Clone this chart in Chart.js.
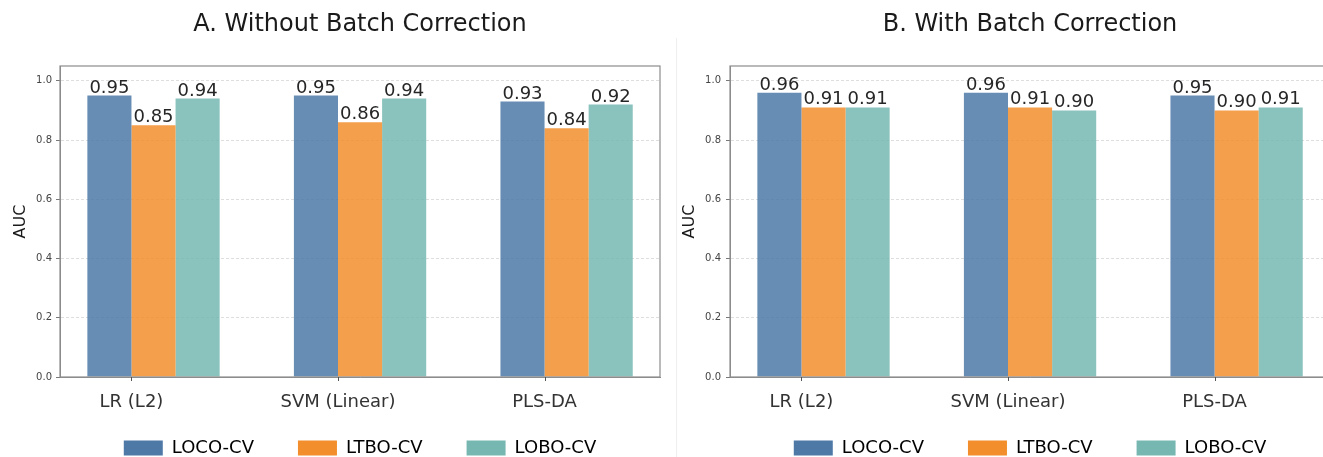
<!DOCTYPE html>
<html><head><meta charset="utf-8">
<script src="https://cdn.jsdelivr.net/npm/chart.js@4.4.1/dist/chart.umd.min.js"></script>
<style>
html,body{margin:0;padding:0;background:#fff;overflow:hidden;width:1323px;height:457px;}
#wrap{position:relative;width:1323px;height:457px;overflow:hidden;background:#fff;}
#boxA{position:absolute;left:0;top:0;width:676px;height:457px;}
#boxB{position:absolute;left:676px;top:0;width:654px;height:457px;}
#sep{position:absolute;left:676px;top:38px;width:1px;height:419px;background:#efefef;}
canvas{display:block;}
</style></head><body>
<div id="wrap">
  <div id="boxA"><canvas id="cA" width="676" height="457"></canvas></div>
  <div id="sep"></div>
  <div id="boxB"><canvas id="cB" width="654" height="457"></canvas></div>
</div>
<script>
// ---- data ----
const categories = ['LR (L2)', 'SVM (Linear)', 'PLS-DA'];
const seriesNames = ['LOCO-CV', 'LTBO-CV', 'LOBO-CV'];
const locoA = [0.95, 0.95, 0.93];
const ltboA = [0.85, 0.86, 0.84];
const loboA = [0.94, 0.94, 0.92];
const locoB = [0.96, 0.96, 0.95];
const ltboB = [0.91, 0.91, 0.90];
const loboB = [0.91, 0.90, 0.91];
const yTicks = [0.0, 0.2, 0.4, 0.6, 0.8, 1.0];
const titleA = 'A. Without Batch Correction';
const titleB = 'B. With Batch Correction';
const yLabel = 'AUC';

// ---- style ----
const FONT = '"DejaVu Sans", "Liberation Sans", sans-serif';
const barColors = ['rgba(78,121,167,0.85)', 'rgba(242,142,43,0.85)', 'rgba(118,183,178,0.85)'];
const legendColors = ['#4e79a7', '#f28e2b', '#76b7b2'];
const LEGEND_PAD = 44, LEGEND_FONT = 18, LEGEND_CENTER_Y = 448;

const valueLabels = {
  id: 'valueLabels',
  afterDatasetsDraw(chart) {
    const ctx = chart.ctx;
    ctx.save();
    ctx.font = '18px ' + FONT;
    ctx.fillStyle = '#262626';
    ctx.textAlign = 'center';
    ctx.textBaseline = 'alphabetic';
    chart.data.datasets.forEach((ds, di) => {
      if (!ds.showValues) return;
      chart.getDatasetMeta(di).data.forEach((bar, i) => {
        ctx.fillText(ds.data[i].y.toFixed(2), bar.x, bar.y - 3);
      });
    });
    ctx.restore();
  }
};

const frame = {
  id: 'frame',
  afterDraw(chart) {
    const a = chart.chartArea, ctx = chart.ctx;
    ctx.save();
    ctx.setLineDash([]);
    ctx.strokeStyle = '#8c8c8c';
    ctx.lineWidth = 1.2;
    ctx.strokeRect(a.left, a.top, a.right - a.left, a.bottom - a.top);
    // x tick marks at category positions
    ctx.strokeStyle = '#555';
    ctx.lineWidth = 1;
    const xs = chart.scales.x;
    categories.forEach((c, i) => {
      const px = Math.round(xs.getPixelForValue(i)) + 0.5;
      ctx.beginPath(); ctx.moveTo(px, a.bottom); ctx.lineTo(px, a.bottom + 4); ctx.stroke();
    });
    ctx.restore();
  }
};

const placeBlocks = {
  id: 'placeBlocks',
  afterLayout(chart) {
    const a = chart.chartArea;
    const t = chart.titleBlock;
    if (t) { t.left = a.left; t.right = a.right; t.width = a.right - a.left; }
    const l = chart.legend;
    if (l) {
      l.left = a.left; l.right = a.right; l.width = a.right - a.left;
      l.top = LEGEND_CENTER_Y - LEGEND_PAD - LEGEND_FONT / 2;
      l.bottom = chart.height;
      l.height = l.bottom - l.top;
    }
  }
};

function makeChart(id, title, loco, ltbo, lobo, opt) {
  const series = [loco, ltbo, lobo];
  const datasets = [{
    label: '', data: categories.map((c, i) => ({x: i, y: null})),
    backgroundColor: 'rgba(0,0,0,0)', showValues: false
  }].concat(series.map((vals, s) => ({
    label: seriesNames[s],
    data: vals.map((v, i) => ({x: i, y: v})),
    backgroundColor: barColors[s],
    borderWidth: 0,
    showValues: true
  })));
  return new Chart(document.getElementById(id), {
    type: 'bar',
    data: {datasets},
    plugins: [valueLabels, frame, placeBlocks],
    options: {
      responsive: false,
      animation: false,
      events: [],
      layout: {padding: {left: 0, right: opt.padRight, top: 0, bottom: 0}},
      datasets: {bar: {categoryPercentage: 0.854, barPercentage: 1.0}},
      plugins: {
        tooltip: {enabled: false},
        title: {
          display: true, text: title, color: '#1a1a1a',
          font: {family: FONT, size: 24, weight: 'normal'},
          padding: {top: 10.6, bottom: 26.6}
        },
        legend: {
          display: true, position: 'bottom', maxHeight: 40,
          labels: {
            font: {family: FONT, size: LEGEND_FONT}, color: '#333',
            boxWidth: 39, boxHeight: 15, padding: LEGEND_PAD,
            generateLabels: () => seriesNames.map((n, i) => ({
              text: n, fillStyle: legendColors[i], strokeStyle: legendColors[i],
              lineWidth: 0, hidden: false, datasetIndex: i + 1
            }))
          }
        }
      },
      scales: {
        x: {
          type: 'linear', min: -0.346, max: 2.559, offset: false,
          afterBuildTicks: (s) => { s.ticks = categories.map((c, i) => ({value: i})); },
          afterFit: (s) => { s.height = 40; },
          ticks: {
            autoSkip: false, maxRotation: 0, padding: 7,
            font: {family: FONT, size: 18}, color: '#333',
            callback: (v, i) => categories[i]
          },
          grid: {display: false},
          border: {display: true, color: '#8c8c8c'}
        },
        y: {
          type: 'linear', min: 0, max: 1.05,
          afterBuildTicks: (s) => { s.ticks = yTicks.map(v => ({value: v})); },
          afterFit: (s) => { s.width = opt.yWidth; },
          ticks: {
            padding: opt.yTickPad, font: {family: FONT, size: 10}, color: '#444',
            callback: (v) => Number(v).toFixed(1)
          },
          grid: {display: true, drawOnChartArea: true, drawTicks: true, tickLength: 4,
                 color: '#d6d6d6', lineWidth: 0.8, tickColor: '#555'},
          border: {display: true, color: '#8c8c8c', dash: [3, 2]},
          title: {display: true, text: yLabel, color: '#1a1a1a',
                  font: {family: FONT, size: 16}, padding: {top: opt.yTitlePad, bottom: 0}}
        }
      }
    }
  });
}

makeChart('cA', titleA, locoA, ltboA, loboA, {padRight: 16, yWidth: 60, yTickPad: 4, yTitlePad: 11});
makeChart('cB', titleB, locoB, ltboB, loboB, {padRight: 0, yWidth: 54, yTickPad: 5, yTitlePad: 4.4});
</script>
</body></html>
